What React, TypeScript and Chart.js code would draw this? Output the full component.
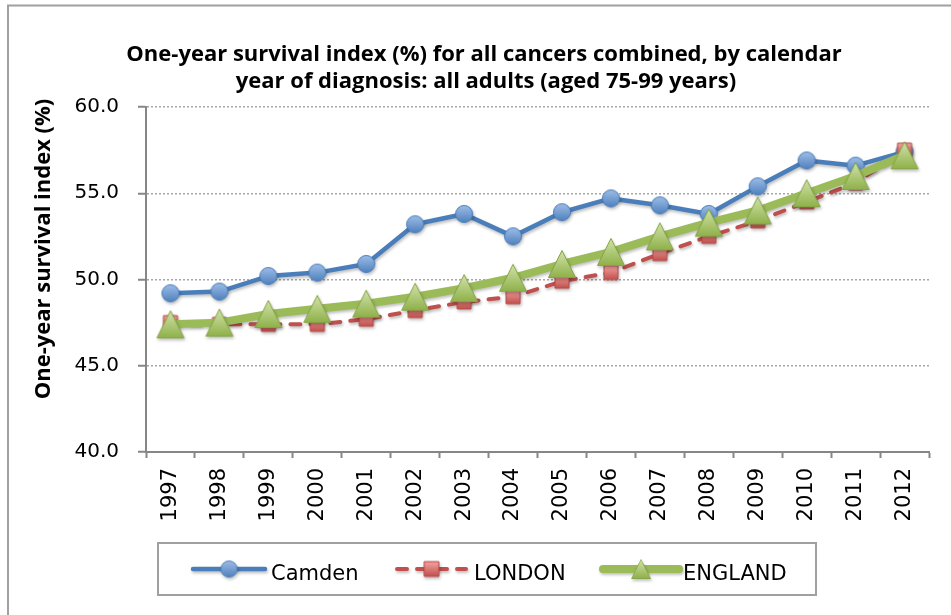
import React, { useEffect, useRef } from 'react';
import { Chart, registerables } from 'chart.js';

Chart.register(...registerables);

// ---- data ----
const years = ['1997', '1998', '1999', '2000', '2001', '2002', '2003', '2004', '2005', '2006', '2007', '2008', '2009', '2010', '2011', '2012'];
const camden = [49.2, 49.3, 50.2, 50.4, 50.9, 53.2, 53.8, 52.5, 53.9, 54.7, 54.3, 53.8, 55.4, 56.9, 56.6, 57.4];
const london = [47.5, 47.4, 47.4, 47.4, 47.7, 48.2, 48.7, 49.0, 49.9, 50.4, 51.5, 52.5, 53.4, 54.5, 55.6, 57.5];
const england = [47.4, 47.5, 48.0, 48.3, 48.6, 49.0, 49.5, 50.1, 50.9, 51.6, 52.5, 53.3, 54.0, 55.0, 56.0, 57.2];
const seriesNames = ['Camden', 'LONDON', 'ENGLAND'];
const yMin = 40;
const yMax = 60;
const yStep = 5;
const titleLines = [
  'One-year survival index (%) for all cancers combined, by calendar',
  'year of diagnosis: all adults (aged 75-99 years)',
];
const yTitle = 'One-year survival index (%)';

// ---- layout ----
const W = 970;
const H = 640;
const AREA_LEFT = 146;
const AREA_TOP = 107;
const AREA_RIGHT = 929;
const AREA_BOTTOM = 452;
const XH = 100;

type Kind = 'circle' | 'square' | 'triangle';

function markerCanvas(kind: Kind): HTMLCanvasElement {
  const size = kind === 'triangle' ? 32 : 22;
  const c = document.createElement('canvas');
  c.width = size;
  c.height = size;
  const g = c.getContext('2d')!;
  const m = size / 2;
  g.beginPath();
  let top = '#9dbde8', bot = '#4f81bd', stroke = '#4a7ebb', half = 8.5;
  if (kind === 'circle') {
    g.arc(m, m, 8.5, 0, Math.PI * 2);
  } else if (kind === 'square') {
    g.rect(m - 7, m - 7, 14, 14);
    top = '#f3a3a1'; bot = '#c0504d'; stroke = '#b94a47'; half = 7;
  } else {
    g.moveTo(m, m - 13.5);
    g.lineTo(m + 13.5, m + 13.5);
    g.lineTo(m - 13.5, m + 13.5);
    g.closePath();
    top = '#d2e3aa'; bot = '#8fb14a'; stroke = '#84a544'; half = 13.5;
  }
  const grad = g.createLinearGradient(0, m - half, 0, m + half);
  grad.addColorStop(0, top);
  grad.addColorStop(1, bot);
  g.fillStyle = grad;
  g.fill();
  g.lineWidth = 1;
  g.strokeStyle = stroke;
  g.stroke();
  return c;
}

export default function App() {
  const ref = useRef<HTMLCanvasElement>(null);

  useEffect(() => {
    if (!ref.current) return;
    const circleImg = markerCanvas('circle');
    const squareImg = markerCanvas('square');
    const triImg = markerCanvas('triangle');

    const decor = {
      id: 'decor',
      beforeDraw(chart: any) {
        const c = chart.ctx;
        c.save();
        c.fillStyle = '#ffffff';
        c.fillRect(0, 0, W, H);
        c.strokeStyle = '#a0a0a0';
        c.lineWidth = 2;
        c.strokeRect(8, 5.5, 955, 628);
        c.restore();
      },
      beforeDatasetsDraw(chart: any) {
        const c = chart.ctx;
        c.save();
        c.shadowColor = 'rgba(0,0,0,0.25)';
        c.shadowBlur = 3;
        c.shadowOffsetX = 1;
        c.shadowOffsetY = 2;
      },
      afterDatasetsDraw(chart: any) {
        chart.ctx.restore();
      },
      afterDraw(chart: any) {
        const c = chart.ctx;
        c.save();
        // title
        c.fillStyle = '#000';
        c.font = 'bold 22px "Open Sans"';
        c.textAlign = 'center';
        c.textBaseline = 'alphabetic';
        c.fillText(titleLines[0], 484, 61);
        c.fillText(titleLines[1], 486, 88);
        // y title
        c.save();
        c.translate(44, 249);
        c.rotate(-Math.PI / 2);
        c.textBaseline = 'middle';
        c.fillText(yTitle, 0, 0);
        c.restore();
        // legend box
        c.strokeStyle = '#a0a0a0';
        c.lineWidth = 2;
        c.strokeRect(158, 543, 658, 52);
        const ly = 569;
        const items = [
          { x0: 193, x1: 265, color: '#4a7ebb', w: 4.5, dash: [] as number[], img: circleImg, s: 0.95, tx: 271 },
          { x0: 397, x1: 466, color: '#c0504d', w: 4, dash: [10, 10], img: squareImg, s: 1.05, tx: 474 },
          { x0: 603, x1: 679, color: '#9bbb59', w: 8, dash: [] as number[], img: triImg, s: 0.7, tx: 683 },
        ];
        items.forEach((it, i) => {
          c.save();
          c.shadowColor = 'rgba(0,0,0,0.25)';
          c.shadowBlur = 3;
          c.shadowOffsetX = 1;
          c.shadowOffsetY = 2;
          c.strokeStyle = it.color;
          c.lineWidth = it.w;
          c.lineCap = 'round';
          c.setLineDash(it.dash);
          c.beginPath();
          c.moveTo(it.x0, ly);
          c.lineTo(it.x1, ly);
          c.stroke();
          const cx = (it.x0 + it.x1) / 2;
          const iw = it.img.width * it.s;
          const ih = it.img.height * it.s;
          c.drawImage(it.img, cx - iw / 2, ly - ih / 2, iw, ih);
          c.restore();
          c.fillStyle = '#000';
          c.font = '21px "DejaVu Sans"';
          c.textAlign = 'left';
          c.textBaseline = 'alphabetic';
          c.fillText(seriesNames[i], it.tx, 580);
        });
        c.restore();
      },
    };

    const chart = new Chart(ref.current, {
      type: 'line',
      data: {
        labels: years,
        datasets: [
          { label: seriesNames[0], data: camden, borderColor: '#4a7ebb', borderWidth: 4.5, pointStyle: circleImg as any, pointRadius: 8, order: 2, borderCapStyle: 'round' },
          { label: seriesNames[1], data: london, borderColor: '#c0504d', borderWidth: 4, borderDash: [10, 10], pointStyle: squareImg as any, pointRadius: 8, order: 1, borderCapStyle: 'round' },
          { label: seriesNames[2], data: england, borderColor: '#9bbb59', borderWidth: 8, pointStyle: triImg as any, pointRadius: 12, order: 0, borderCapStyle: 'round' },
        ],
      },
      options: {
        animation: false,
        responsive: false,
        maintainAspectRatio: false,
        events: [],
        layout: { padding: { left: 0, top: AREA_TOP, right: W - AREA_RIGHT, bottom: H - AREA_BOTTOM - XH } },
        plugins: { legend: { display: false }, title: { display: false }, tooltip: { enabled: false } },
        elements: { line: { tension: 0, borderJoinStyle: 'round', fill: false } },
        scales: {
          x: {
            type: 'category',
            offset: true,
            grid: { offset: true, drawOnChartArea: false, drawTicks: true, tickLength: 6, tickColor: '#868686', tickWidth: 2 },
            border: { color: '#868686', width: 2 },
            ticks: { autoSkip: false, minRotation: 90, maxRotation: 90, padding: 10, color: '#000', font: { family: 'DejaVu Sans', size: 21 } },
            afterFit: (s: any) => { s.height = XH; },
          },
          y: {
            min: yMin,
            max: yMax,
            ticks: { stepSize: yStep, callback: (v: any) => Number(v).toFixed(1), padding: 19, color: '#000', font: { family: 'DejaVu Sans', size: 20 } },
            grid: { color: '#a6a6a6', lineWidth: 1.5, tickLength: 8, tickColor: '#868686', tickWidth: 2, tickBorderDash: [] },
            border: { color: '#868686', width: 2, dash: [2, 2] },
            afterFit: (s: any) => { s.width = AREA_LEFT; },
          },
        },
      },
      plugins: [decor],
    });
    return () => chart.destroy();
  }, []);

  return (
    <div style={{ position: 'absolute', left: 0, top: 0, width: 951, height: 615, overflow: 'hidden', background: '#fff' }}>
      <canvas ref={ref} width={W} height={H} style={{ display: 'block', width: W, height: H }} />
    </div>
  );
}
